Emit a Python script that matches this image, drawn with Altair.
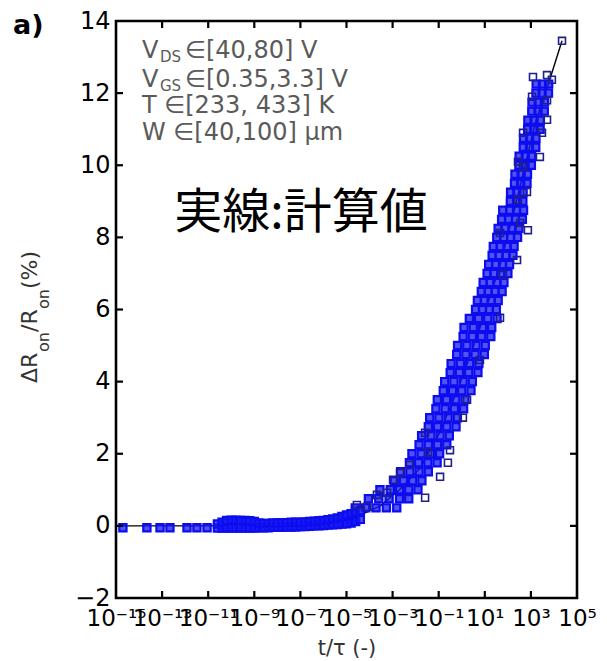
import altair as alt
import pandas as pd

# ---------------- data ----------------
# dense band of measured points: one row per dR level, exponents of t/tau
core_levels = [0.5, 0.75, 1.0, 1.25, 1.5, 1.75, 2.0, 2.25, 2.5, 2.75, 3.0, 3.25, 3.5, 3.75,
               4.0, 4.25, 4.5, 4.75, 5.0, 5.25, 5.5, 5.75, 6.0, 6.25, 6.5, 6.75, 7.0, 7.25,
               7.5, 7.75, 8.0, 8.25, 8.5, 8.75, 9.0, 9.25, 9.5, 9.75, 10.0, 10.25, 10.5,
               10.75, 11.0, 11.25, 11.5, 11.75, 12.0, 12.25]
core_exps = [
    [-4.62, -4.17, -3.72, -3.27, -2.82],
    [-4.05, -3.6, -3.15, -2.7, -2.3],
    [-3.55, -3.1, -2.7, -2.3, -1.9],
    [-2.93, -2.53, -2.13, -1.73],
    [-2.65, -2.25, -1.85, -1.45],
    [-2.27, -1.87, -1.47, -1.07],
    [-2.16, -1.76, -1.36, -0.96],
    [-1.85, -1.45, -1.05, -0.65],
    [-1.74, -1.34, -0.94, -0.54],
    [-1.45, -1.05, -0.65, -0.25],
    [-1.39, -0.99, -0.59, -0.19],
    [-1.12, -0.72, -0.32, 0.08],
    [-1.06, -0.66, -0.26, 0.14],
    [-0.8, -0.4, 0.0, 0.4],
    [-0.74, -0.34, 0.06, 0.46],
    [-0.5, -0.1, 0.3, 0.7],
    [-0.46, -0.06, 0.34, 0.74],
    [-0.22, 0.18, 0.58, 0.98],
    [-0.18, 0.22, 0.62, 1.02],
    [0.06, 0.46, 0.86, 1.26],
    [0.1, 0.5, 0.9, 1.3],
    [0.33, 0.73, 1.13, 1.53],
    [0.6, 0.9, 1.2, 1.5],
    [0.68, 0.98, 1.28, 1.58],
    [0.85, 1.15, 1.45, 1.75],
    [0.93, 1.23, 1.53, 1.83],
    [1.1, 1.4, 1.7, 2.0],
    [1.17, 1.47, 1.77, 2.07],
    [1.32, 1.62, 1.92, 2.22],
    [1.37, 1.67, 1.97, 2.27],
    [1.52, 1.82, 2.12, 2.42],
    [1.58, 1.88, 2.18, 2.48],
    [1.73, 2.03, 2.33, 2.63],
    [1.78, 2.08, 2.38, 2.68],
    [2.11, 2.38, 2.65],
    [2.12, 2.39, 2.66],
    [2.29, 2.56, 2.83],
    [2.31, 2.58, 2.85],
    [2.48, 2.75, 3.02],
    [2.49, 2.76, 3.03],
    [2.67, 2.94, 3.21],
    [2.68, 2.95, 3.22],
    [2.86, 3.13, 3.40],
    [2.87, 3.14, 3.41],
    [3.04, 3.31, 3.58],
    [3.05, 3.32, 3.59],
    [3.22, 3.49, 3.76],
    [3.23, 3.50, 3.77],
]

# nearly flat part of the band
flat_exp = [-10.6, -10.4, -10.2, -10.0, -9.8, -9.6, -9.4, -9.2, -9.0, -8.8, -8.6, -8.4,
            -8.2, -8.0, -7.8, -7.6, -7.4, -7.2, -7.0, -6.8, -6.6, -6.4, -6.2, -6.0,
            -5.8, -5.6, -5.4, -5.2, -5.0, -4.8, -4.6, -4.4]
flat_low = [-0.06, -0.06, -0.06, -0.06, -0.06, -0.06, -0.06, -0.06, -0.06, -0.05, -0.05, -0.05,
            -0.04, -0.04, -0.04, -0.03, -0.03, -0.03, -0.02, -0.02, -0.01, 0.0, 0.0, 0.01,
            0.02, 0.03, 0.04, 0.05, 0.06, 0.08, 0.12, 0.18]
flat_high = [0.05, 0.1, 0.15, 0.16, 0.16, 0.15, 0.15, 0.14, 0.12, 0.08, 0.07, 0.07,
             0.08, 0.08, 0.09, 0.09, 0.1, 0.1, 0.1, 0.11, 0.12, 0.13, 0.14, 0.15,
             0.17, 0.19, 0.22, 0.26, 0.3, 0.34, 0.38, 0.42]

# sparse points at the far left
left_exp = [-14.7, -13.66, -13.09, -12.66, -11.92, -11.49, -11.05]
left_val = [-0.05, -0.05, -0.05, -0.05, -0.05, -0.05, -0.05]

# scattered points around the band
out_exp = [4.35, 3.09, 3.70, 3.91, 3.05, 3.70, 3.70, 2.66, 3.48, 3.39, 2.44, 2.66, 2.83,
           2.44, 2.53, 2.87, 2.40, 1.66, 1.79, 1.66, 0.79, 0.05, 0.23, -0.51, -0.60,
           -0.94, -1.59, -1.46, -1.59, -2.25, -2.68, -2.98, -3.24, -3.68, -4.11, -4.55]
out_val = [13.45, 12.45, 12.5, 12.37, 11.9, 11.8, 11.26, 10.9, 10.9, 10.23, 10.1, 9.96, 9.26,
           9.04, 8.4, 8.2, 7.37, 8.12, 6.96, 5.77, 4.6, 3.0, 3.5, 2.1, 1.75,
           1.36, 2.58, 2.05, 0.78, 1.69, 1.47, 1.28, 0.92, 0.86, 0.53, 0.58]

# calculated curve (solid line)
model_exp = [-15, -11, -9, -7, -5.3, -4.4, -3.55, -2.7, -1.8, -0.95, -0.1, 0.8, 1.65,
             2.3, 2.75, 3.2, 3.83, 4.35]
model_val = [0, 0, 0.05, 0.1, 0.2, 0.3, 0.55, 1.0, 1.6, 2.6, 3.9, 5.5, 7.2,
             8.8, 10.0, 11.2, 12.4, 13.45]

x_tick_exp = [-15, -13, -11, -9, -7, -5, -3, -1, 1, 3, 5]
y_tick_vals = [-2, 0, 2, 4, 6, 8, 10, 12, 14]

# ---------------- tables ----------------
rows = []
for lev, exps in zip(core_levels, core_exps):
    for e in exps:
        rows.append((10.0 ** e, lev))
for e, lo, hi in zip(flat_exp, flat_low, flat_high):
    rows.append((10.0 ** e, lo))
    rows.append((10.0 ** e, hi))
for e, v in zip(left_exp, left_val):
    rows.append((10.0 ** e, v))
core_df = pd.DataFrame(rows, columns=["t", "v"])
out_df = pd.DataFrame({"t": [10.0 ** e for e in out_exp], "v": out_val})
model_df = pd.DataFrame({"t": [10.0 ** e for e in model_exp], "v": model_val})
xt_df = pd.DataFrame({"t": [10.0 ** e for e in x_tick_exp[1:-1]]})
yt_df = pd.DataFrame({"v": y_tick_vals[1:-1]})

W, H = 461, 577

SUP = {"-": "\u207b", "0": "\u2070", "1": "\u00b9", "2": "\u00b2", "3": "\u00b3", "4": "\u2074",
       "5": "\u2075", "6": "\u2076", "7": "\u2077", "8": "\u2078", "9": "\u2079"}


def lab(k):
    return "10" + "".join(SUP[c] for c in str(k))


parts = [f"datum.value < {10.0 ** (k + 1)!r} ? '{lab(k)}'" for k in x_tick_exp[:-1]]
label_expr = " : ".join(parts) + f" : '{lab(x_tick_exp[-1])}'"

xscale = alt.Scale(type="log", domain=[1e-15, 1e5], nice=False)
yscale = alt.Scale(domain=[-2, 14], nice=False, zero=False)

xaxis = alt.Axis(values=[10.0 ** e for e in x_tick_exp], labelExpr=label_expr, grid=False,
                 domain=False, ticks=False, tickSize=0, labelFont="DejaVu Sans", labelFontSize=23,
                 labelColor="black", labelBaseline="alphabetic", labelPadding=27,
                 labelOverlap=False, labelFlush=False,
                 title="t/\u03c4 (-)", titleFont="DejaVu Sans", titleFontSize=21,
                 titleFontWeight="normal", titleColor="#333333", titleX=W / 2, titleY=50,
                 titleAlign="center", titleBaseline="middle")
yaxis = alt.Axis(values=y_tick_vals, format="d", grid=False, domain=False, ticks=False,
                 tickSize=0, labelFont="DejaVu Sans", labelFontSize=24, labelColor="black",
                 labelPadding=6, labelOverlap=False, labelFlush=False, title="")

X = alt.X("t:Q", scale=xscale, axis=xaxis)
Y = alt.Y("v:Q", scale=yscale, axis=yaxis)

line = alt.Chart(model_df).mark_line(color="black", strokeWidth=1.4).encode(x=X, y=Y, order="t:Q")
core = alt.Chart(core_df).mark_point(shape="square", filled=False, size=52, strokeWidth=2.2,
                                     stroke="#0c0cf0", fill="#1a1af2", fillOpacity=0.75,
                                     opacity=1).encode(x=X, y=Y)
outl = alt.Chart(out_df).mark_point(shape="square", filled=False, size=48, strokeWidth=1.6,
                                    color="#20208c", opacity=1).encode(x=X, y=Y)

tick_color = "black"
tb = alt.Chart(xt_df).mark_rule(color=tick_color, strokeWidth=2.2).encode(
    x=X, y=alt.value(H), y2=alt.value(H - 7))
tt = alt.Chart(xt_df).mark_rule(color=tick_color, strokeWidth=2.2).encode(
    x=X, y=alt.value(0), y2=alt.value(7))
tl = alt.Chart(yt_df).mark_rule(color=tick_color, strokeWidth=2.2).encode(
    y=Y, x=alt.value(0), x2=alt.value(7))
tr = alt.Chart(yt_df).mark_rule(color=tick_color, strokeWidth=2.2).encode(
    y=Y, x=alt.value(W), x2=alt.value(W - 7))

one = pd.DataFrame({"a": [0]})


def txt(s, x, y, size, color="#5a5a5a", font="DejaVu Sans", weight="normal",
        align="left", baseline="alphabetic", angle=0):
    return alt.Chart(one).mark_text(font=font, fontSize=size, fontWeight=weight, color=color,
                                    align=align, baseline=baseline, angle=angle).encode(
        x=alt.value(x), y=alt.value(y), text=alt.value(s))


ox, oy = 116, 21  # page position of plot origin
tc = "#333333"
texts = [
    txt("V", 142 - ox, 58 - oy, 24),
    txt("DS", 160 - ox, 62 - oy, 15),
    txt("\u2208[40,80] V", 185 - ox, 58 - oy, 24),
    txt("V", 142 - ox, 87 - oy, 24),
    txt("GS", 160 - ox, 91 - oy, 15),
    txt("\u2208[0.35,3.3] V", 185 - ox, 87 - oy, 24),
    txt("T \u2208[233, 433] K", 142 - ox, 113 - oy, 24),
    txt("W \u2208[40,100] \u03bcm", 142 - ox, 140 - oy, 24),
    txt("実線:計算値", 301 - ox, 214 - oy, 48, color="black", font="Noto Sans CJK JP",
        align="center", baseline="middle"),
    txt("a)", 13 - ox, 34 - oy, 27, color="black", weight="bold"),
    # y-axis title, rotated, with subscripts
    txt("\u0394R", 37 - ox, 383 - oy, 22, color=tc, angle=270),
    txt("on", 49 - ox, 352 - oy, 16, color=tc, angle=270),
    txt("/R", 37 - ox, 332 - oy, 22, color=tc, angle=270),
    txt("on", 49 - ox, 309 - oy, 16, color=tc, angle=270),
    txt(" (%)", 37 - ox, 289 - oy, 22, color=tc, angle=270),
]

chart = alt.layer(line, core, outl, tb, tt, tl, tr, *texts).properties(
    width=W, height=H,
    autosize=alt.AutoSizeParams(type="none"),
    padding={"left": 116, "top": 21, "right": 30, "bottom": 63},
    background="white",
).configure_view(stroke="black", strokeWidth=2.6)

chart.save("out.html", embed_options={"renderer": "svg", "actions": False})
